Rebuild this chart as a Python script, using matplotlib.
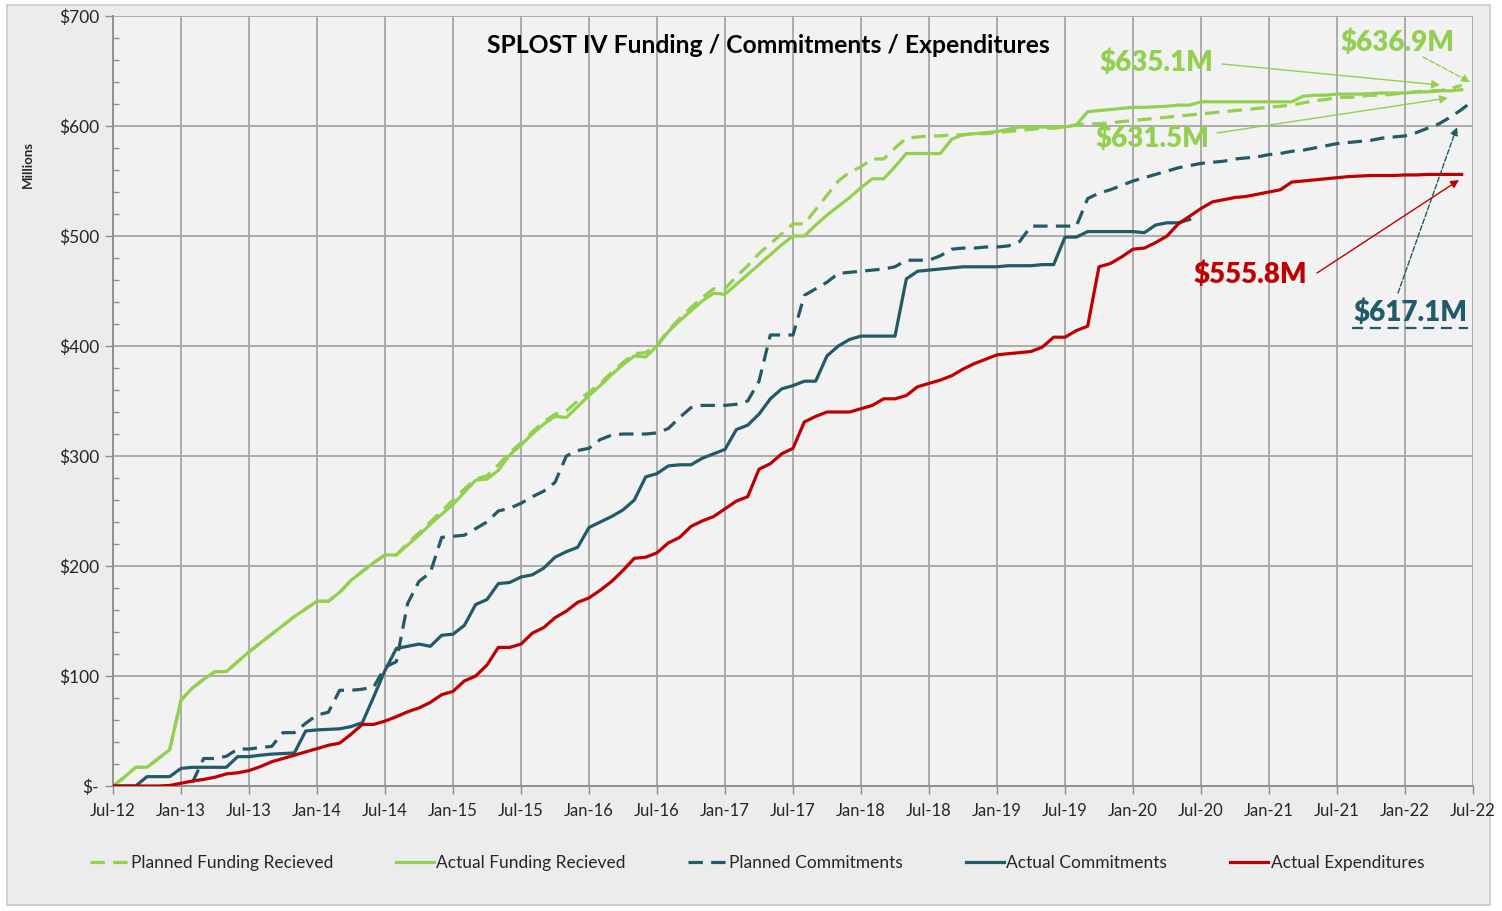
import numpy as np
import matplotlib
matplotlib.use("Agg")
import matplotlib.pyplot as plt
from matplotlib.patches import Rectangle

plt.rcParams['font.family'] = ['Lato', 'DejaVu Sans']

nan = np.nan

# Monthly data, Jul-12 (index 0) onward, values in $ millions
planned_funding = [0, 8, 17, 17, 25, 33, 78, 89, 97, 104, 104, 113, 122, 130, 138, 146, 154, 161, 168, 168,
                   176, 187, 195, 203, 210, 210, 221, 230, 240, 250, 260, 270, 279, 282, 292, 303, 312, 322, 331, 338,
                   341, 350, 358, 366, 376, 385, 393, 394, 401, 414, 425, 435, 444, 452, 452, 463, 473, 484, 493, 502,
                   511, 511, 524, 537, 550, 558, 563, 570, 570, 580, 589, 590, 591, 591, 592, 592, 593, 593, 594, 595,
                   596, 597, 598, 598, 599, 601, 602, 602, 603, 604, 605, 606, 607, 608, 609, 610, 611, 612, 613, 614,
                   615, 616, 617, 618, 619, 621, 623, 624, 626, 626, 627, 628, 628, 629, 630, 631, 632, 632, 634, 637]

actual_funding = [0, 8, 17, 17, 25, 33, 78, 89, 97, 104, 104, 113, 122, 130, 138, 146, 154, 161, 168, 168,
                  176, 187, 195, 203, 210, 210, 219, 228, 238, 247, 256, 267, 278, 279, 287, 301, 310, 320, 329, 336,
                  335, 345, 355, 364, 374, 383, 391, 390, 400, 413, 423, 432, 441, 448, 447, 456, 465, 474, 483, 492,
                  500, 500, 510, 519, 527, 535, 544, 552, 552, 563, 575, 575, 575, 575, 588, 592, 593, 594, 595, 597,
                  599, 599, 599, 599, 599, 601, 613, 614, 615, 616, 617, 617, 617.5, 618, 619, 619, 622, 622, 622, 622,
                  622, 622, 622, 622, 622, 627, 628, 628, 629, 629, 629, 629.5, 630, 630, 630, 631, 631, 632, 632, 633]

planned_commitments = [nan, nan, nan, nan, nan, nan, nan, 3, 25, 25, 27, 33.6, 33.6, 35, 36, 48.5, 48.5, 57, 64.5, 67,
                       87, 87, 88, 90, 108, 113, 166, 186, 194, 226, 227, 228, 234, 240, 250, 252.5, 257, 263, 268, 276,
                       300, 305, 307, 315, 319, 320, 320, 320, 321, 325, 335, 344, 346, 346, 346, 347, 350, 368, 410, 410,
                       410, 446, 452, 458, 466, 467, 468, 469, 470, 472, 478, 478, 478, 482, 488, 489, 489, 490, 490, 491,
                       495, 509, 509, 509, 509, 509, 534, 539, 542, 546, 550, 553, 556, 559, 562, 564, 566, 567, 568, 570,
                       571, 572, 574, 575, 577, 578, 580, 582, 584, 585, 586, 587, 589, 590, 591, 594, 598, 602, 608, 615, 623]

actual_commitments = [0, 0, 0, 8.5, 8.5, 8.5, 16, 17, 17, 17, 17, 26.7, 26.7, 28, 29, 29.5, 30, 50, 51, 51.5,
                      52, 54, 57.6, 81, 105, 125, 127, 129, 127, 137, 138, 146, 165, 169.5, 184, 185, 190, 192, 198, 208,
                      213, 217, 235, 240, 245, 251, 260, 281, 284, 291, 292, 292, 298, 302, 306, 324, 328, 338, 352, 361,
                      364, 368, 368, 391, 400, 406, 409, 409, 409, 409, 461, 468, 469, 470, 471, 472, 472, 472, 472, 473,
                      473, 473, 474, 474, 499, 499, 504, 504, 504, 504, 504, 503, 510, 512, 512, 515]

actual_expenditures = [0, 0, 0, 0, 0, 0.5, 2.5, 4.5, 6, 8, 11, 12, 14, 17.6, 22, 25, 28, 31, 34, 37,
                       39, 47, 56, 56, 59, 63, 67.5, 71, 76, 83, 86, 95.5, 100, 110, 126, 126, 129, 139, 144, 153,
                       159, 167, 171, 178, 186, 196, 207, 208, 212, 221, 226, 236, 241, 245, 252, 259, 263, 288, 293, 302,
                       307, 331, 336, 340, 340, 340, 343, 346, 352, 352, 355, 363, 366, 369, 373, 379, 384, 388, 392, 393,
                       394, 395, 399, 408, 408, 414, 418, 472, 475, 481, 488, 489, 494, 500, 511, 518, 525, 531, 533, 535,
                       536, 538, 540, 542, 549, 550, 551, 552, 553, 554, 554.5, 555, 555, 555, 555.5, 555.5, 556, 556, 556, 556]

x_tick_labels = ['Jul-12', 'Jan-13', 'Jul-13', 'Jan-14', 'Jul-14', 'Jan-15', 'Jul-15', 'Jan-16', 'Jul-16',
                 'Jan-17', 'Jul-17', 'Jan-18', 'Jul-18', 'Jan-19', 'Jul-19', 'Jan-20', 'Jul-20', 'Jan-21',
                 'Jul-21', 'Jan-22', 'Jul-22']
y_ticks = [0, 100, 200, 300, 400, 500, 600, 700]
y_tick_labels = ['$-', '$100', '$200', '$300', '$400', '$500', '$600', '$700']

series_names = ['Planned Funding Recieved', 'Actual Funding Recieved', 'Planned Commitments',
                'Actual Commitments', 'Actual Expenditures']

GREEN = '#92D050'
TEAL = '#215A69'
RED = '#C00000'
GRID = '#A6A6A6'

W, H = 1502, 911
fig = plt.figure(figsize=(W / 100, H / 100), dpi=100)
fig.patch.set_facecolor('white')
# chart area background and frame
bg = Rectangle((7 / W, 1 - 905 / H), (1490 - 7) / W, (905 - 5) / H,
               transform=fig.transFigure, facecolor='#ECECEC',
               edgecolor='#C8C8C8', linewidth=1.2, zorder=-10)
fig.patches.append(bg)

ax = fig.add_axes([113 / W, 1 - 786 / H, 1360 / W, 770 / H])
ax.set_zorder(5)
ax.set_facecolor('#F2F2F2')

def xs(vals):
    return np.arange(len(vals))

lw = 2.3
ax.plot(xs(planned_funding), planned_funding, color=GREEN, lw=lw, dashes=(4.5, 2.6), label=series_names[0], zorder=3)
ax.plot(xs(actual_funding), actual_funding, color=GREEN, lw=lw, label=series_names[1], zorder=3)
ax.plot(xs(planned_commitments), planned_commitments, color=TEAL, lw=lw, dashes=(4.5, 2.6), label=series_names[2], zorder=3)
ax.plot(xs(actual_commitments), actual_commitments, color=TEAL, lw=lw, label=series_names[3], zorder=3)
ax.plot(xs(actual_expenditures), actual_expenditures, color=RED, lw=lw, label=series_names[4], zorder=4)

ax.set_xlim(0, 120)
ax.set_ylim(0, 700)
ax.set_xticks(np.arange(0, 121, 6))
ax.set_xticklabels(x_tick_labels, fontsize=12, color='#262626')
ax.set_yticks(y_ticks)
ax.set_yticklabels(y_tick_labels, fontsize=12.5, color='#262626')
ax.set_yticks(np.arange(0, 701, 20), minor=True)
ax.tick_params(axis='y', which='minor', direction='in', length=4, color='#8C8C8C', width=1)
ax.tick_params(axis='y', which='major', direction='out', length=6, color='#8C8C8C', width=1, pad=4)
ax.tick_params(axis='x', which='major', direction='out', length=6, color='#8C8C8C', width=1, pad=6)
ax.grid(True, which='major', color=GRID, lw=1.3, zorder=1)
ax.set_axisbelow(True)
for s in ['top', 'right']:
    ax.spines[s].set_visible(False)
for s in ['left', 'bottom']:
    ax.spines[s].set_color('#8C8C8C')
    ax.spines[s].set_linewidth(1.3)

fig.text(28 / W, 1 - 165 / H, 'Millions', rotation=90, ha='center', va='center',
         fontsize=9.5, fontweight='bold', color='#262626')

ax.text(0.4816, 0.962, 'SPLOST IV Funding / Commitments / Expenditures', transform=ax.transAxes,
        ha='center', va='center', fontsize=17.8, fontweight='bold', color='black')

def to_data(px, py):
    return ((px - 113) / 1360 * 120, (786 - py) / 1.1)

lab_fs = 20
def note(txt, color, text_px, tip_px, tail_px, ls='-'):
    tx, ty = to_data(*text_px)
    ax.text(tx, ty, txt, color=color, fontsize=lab_fs, fontweight='heavy', ha='center', va='center', zorder=6)
    ax.annotate('', xy=to_data(*tip_px), xytext=to_data(*tail_px),
                arrowprops=dict(arrowstyle='-|>', color=color, lw=1.0, linestyle=ls,
                                mutation_scale=12, shrinkA=0, shrinkB=0), zorder=6)

note('$635.1M', GREEN, (1156, 63), (1440, 85), (1222, 64))
note('$636.9M', GREEN, (1397, 43), (1470, 82), (1423, 57), ls='--')
note('$631.5M', GREEN, (1152, 139), (1448, 98), (1217, 133))
note('$555.8M', RED, (1250, 275), (1459, 180), (1317, 273))
note('$617.1M', TEAL, (1410, 313), (1457, 127), (1398, 293), ls='--')
# dashed underline of $617.1M
ux0, uy = to_data(1352, 328)
ux1, _ = to_data(1468, 328)
ax.plot([ux0, ux1], [uy, uy], color=TEAL, lw=1.6, dashes=(5, 3), zorder=6)

handles, labels = ax.get_legend_handles_labels()
leg = fig.legend(handles, labels, loc='center', bbox_to_anchor=(0.504, 1 - 863 / H), ncol=5,
                 frameon=False, fontsize=12.5, handlelength=2.2, handletextpad=0.15, columnspacing=3.6)
for t in leg.get_texts():
    t.set_color('#262626')

fig.savefig('out.png', dpi=100, facecolor=fig.get_facecolor())
